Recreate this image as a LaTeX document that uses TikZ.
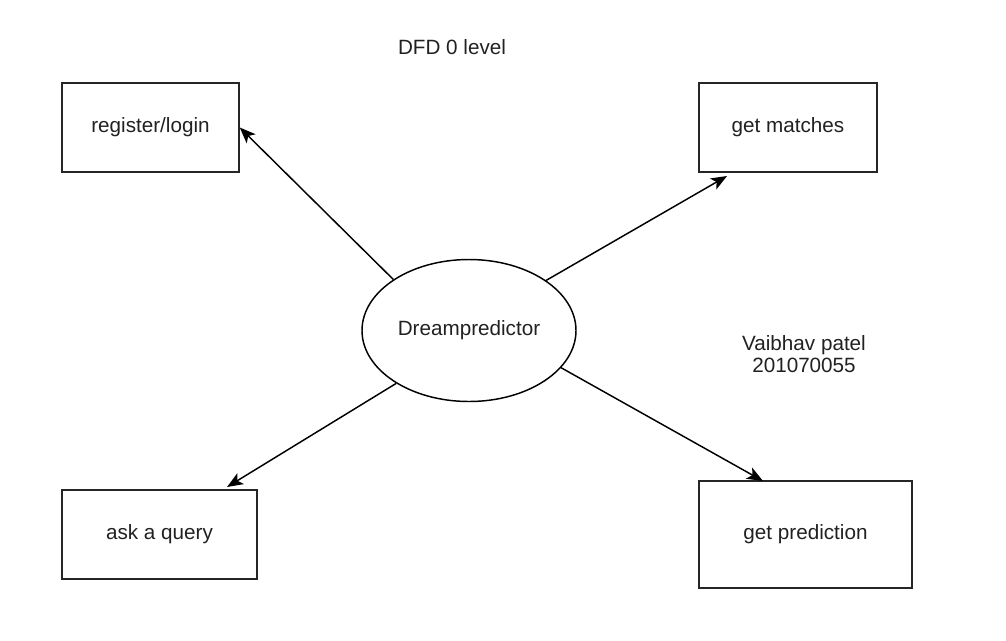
\documentclass[tikz,border=0pt]{standalone}
\usepackage{fontspec}
\setmainfont{Liberation Sans}
\usetikzlibrary{arrows.meta,shapes.geometric,calc}
\begin{document}
\begin{tikzpicture}[x=0.75pt,y=-0.75pt,
  every node/.style={font=\fontsize{15.5pt}{18.6pt}\selectfont, text=black!87},
  procbox/.style={draw=black!85, line width=1.1pt, inner sep=0pt, rectangle},
  procell/.style={draw=black, line width=1.1pt, ellipse, inner sep=0pt, minimum width=160.5pt, minimum height=106.5pt},
  flow/.style={draw=black, line width=1.1pt, -{Stealth[length=12pt,width=9.5pt,inset=3pt]}},
  plain/.style={inner sep=0pt, align=center}
]
\useasboundingbox (0,0) rectangle (1006,640);
\node[plain] (title) at (452,47) {DFD 0 level};
\node[procbox, minimum width=132.75pt, minimum height=66.75pt] (reg) at (150.5,127.5) {register/login};
\node[procbox, minimum width=133.5pt, minimum height=66.75pt] (match) at (788,127.5) {get matches};
\node[procbox, minimum width=146.25pt, minimum height=66.75pt] (query) at (159.5,534.5) {ask a query};
\node[procbox, minimum width=159.75pt, minimum height=80.25pt] (pred) at (805.5,534.5) {get prediction};
\node[procell] (dp) at (469,330.5) {Dreampredictor};
\node[plain, font=\fontsize{15.5pt}{17pt}\selectfont] (author) at (804,354) {Vaibhav patel\\201070055};
\coordinate (matchtip) at (727,176);
\coordinate (querytip) at (227,487);
\coordinate (predtip) at (763,481);
\draw[flow] (dp.146.4) -- (reg.east);
\draw[flow] (dp.33.6) -- (matchtip);
\draw[flow] (dp.216.5) -- (querytip);
\draw[flow] (dp.-22) -- (predtip);
\end{tikzpicture}
\end{document}
